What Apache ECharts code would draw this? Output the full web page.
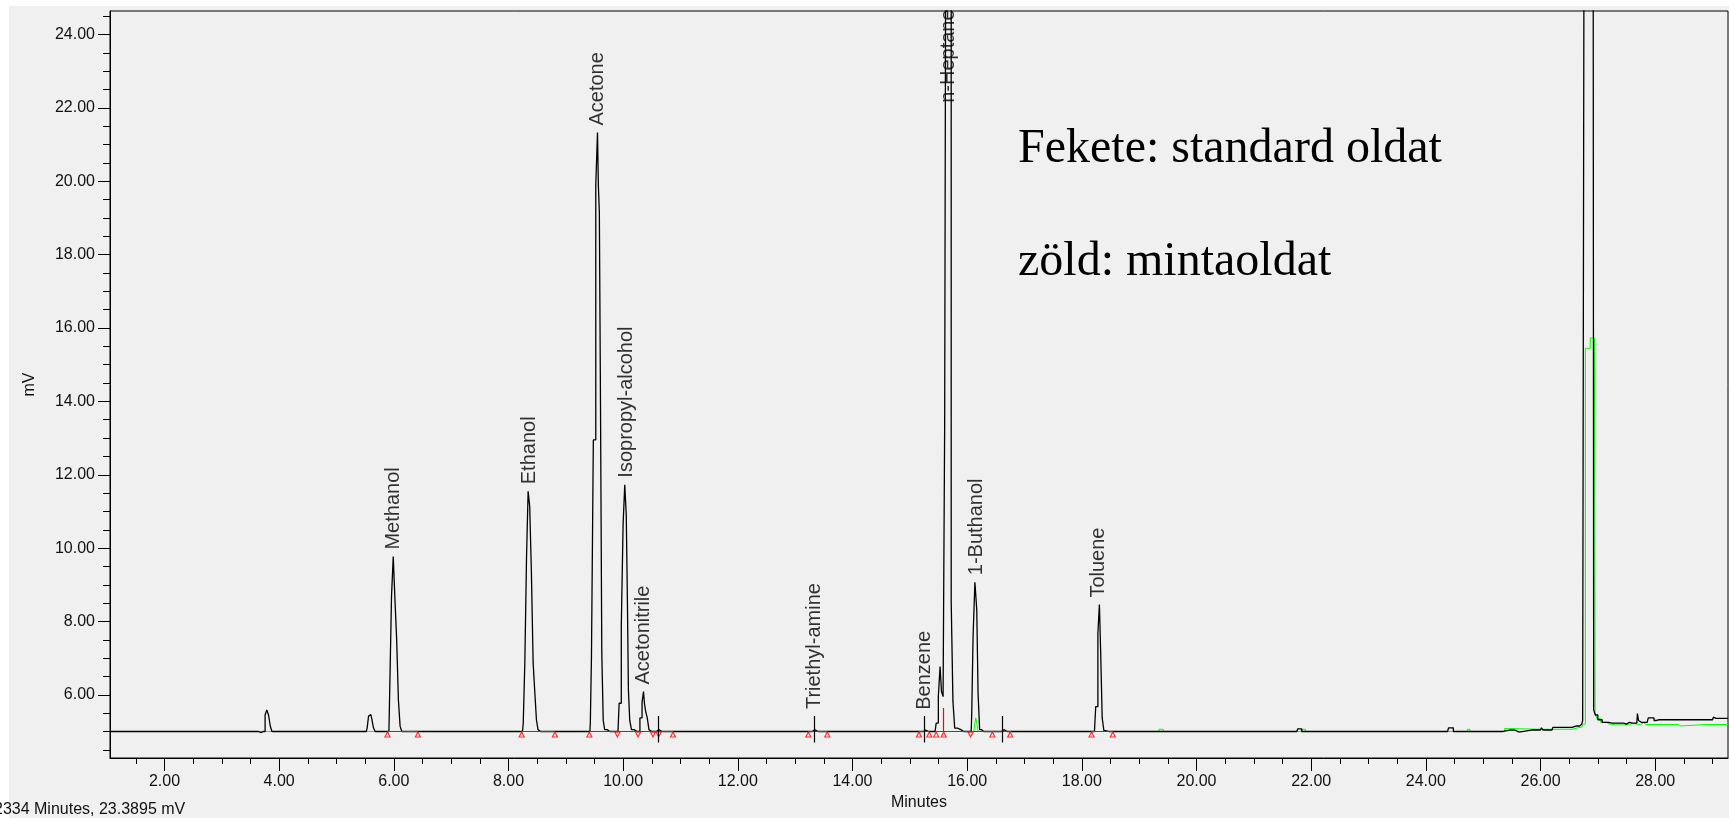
<!DOCTYPE html>
<html>
<head>
<meta charset="utf-8">
<title>Chromatogram</title>
<script src="https://cdn.jsdelivr.net/npm/echarts@6.0.0/dist/echarts.min.js"></script>
<style>
    html, body {margin: 0; padding: 0; background: #ffffff; overflow: hidden;}
    #panel {position: absolute; left: 9px; top: 6px; right: 0; bottom: 0; background: #f0f0f0;}
    #chart {position: absolute; left: 0; top: 0; width: 1729px; height: 818px;}
</style>
</head>
<body>
<div id="panel"></div>
<div id="chart"></div>
<script>
// axis ticks
var xMajor = [2, 4, 6, 8, 10, 12, 14, 16, 18, 20, 22, 24, 26, 28];
var xMinor = [1.5, 2.5, 3, 3.5, 4.5, 5, 5.5, 6.5, 7, 7.5, 8.5, 9, 9.5, 10.5, 11, 11.5, 12.5, 13, 13.5,
    14.5, 15, 15.5, 16.5, 17, 17.5, 18.5, 19, 19.5, 20.5, 21, 21.5, 22.5, 23, 23.5, 24.5, 25, 25.5,
    26.5, 27, 27.5, 28.5, 29];
var yMajor = [6, 8, 10, 12, 14, 16, 18, 20, 22, 24];
var yMinor = [4.5, 5, 5.5, 6.5, 7, 7.5, 8.5, 9, 9.5, 10.5, 11, 11.5, 12.5, 13, 13.5, 14.5, 15, 15.5,
    16.5, 17, 17.5, 18.5, 19, 19.5, 20.5, 21, 21.5, 22.5, 23, 23.5, 24.5];

// black trace: standard oldat (minutes, mV)
var standardTrace = [
    [1.05, 5.0], [3.64, 5.0], [3.67, 4.97], [3.70, 5.0],
    [3.74, 5.0], [3.77, 5.45], [3.80, 5.59], [3.83, 5.45], [3.86, 5.15], [3.89, 5.0],
    [5.52, 5.0], [5.55, 5.1], [5.57, 5.42], [5.60, 5.46], [5.63, 5.35], [5.66, 5.1], [5.69, 5.0],
    [5.915, 5.0], [5.945, 6.23], [5.975, 8.68], [6.005, 9.77], [6.035, 8.59], [6.065, 7.5], [6.095, 5.86], [6.125, 5.14], [6.155, 5.0], [6.20, 5.0],
    [8.245, 5.0], [8.27, 5.23], [8.30, 6.87], [8.33, 9.77], [8.355, 11.55], [8.385, 11.14], [8.415, 9.32], [8.445, 6.87], [8.475, 6.05], [8.50, 5.32], [8.53, 5.05], [8.56, 5.0], [8.60, 5.0],
    [9.42, 5.0], [9.435, 5.23], [9.46, 7.05], [9.50, 12.95], [9.545, 19.9], [9.56, 21.33], [9.575, 19.9], [9.595, 19.15], [9.615, 13.9], [9.64, 7.15], [9.665, 5.3], [9.69, 5.05], [9.75, 5.0], [9.79, 5.0],
    [9.91, 5.0], [9.95, 5.77], [9.985, 7.86], [10.013, 10.64], [10.043, 11.73], [10.065, 10.91], [10.083, 8.6], [10.10, 6.14], [10.13, 5.3], [10.16, 5.05], [10.22, 5.0],
    [10.27, 5.0], [10.315, 5.37], [10.345, 5.8], [10.365, 6.09], [10.38, 5.75], [10.405, 5.55], [10.435, 5.37], [10.465, 5.05], [10.5, 5.0],
    [10.58, 5.0], [10.60, 5.05], [10.64, 5.05], [10.66, 5.0], [10.70, 5.0],
    [13.30, 5.0], [13.32, 5.05], [13.36, 5.05], [13.38, 5.0], [13.42, 5.0],
    [15.24, 5.0], [15.26, 5.04], [15.29, 5.04], [15.31, 5.0], [15.35, 5.0],
    [15.44, 5.0], [15.48, 5.23], [15.515, 5.96], [15.54, 6.77], [15.565, 6.09], [15.595, 5.95], [15.62, 13.32], [15.655, 35], [15.705, 35], [15.738, 8.55], [15.766, 5.82], [15.80, 5.09], [15.86, 5.05], [15.92, 5.0], [15.96, 5.0],
    [16.07, 5.0], [16.09, 5.5], [16.115, 7.55], [16.155, 9.07], [16.18, 8.32], [16.20, 6.05], [16.235, 5.05], [16.27, 5.0], [16.31, 5.0],
    [16.60, 5.0], [16.62, 5.05], [16.66, 5.05], [16.68, 5.0], [16.72, 5.0],
    [18.22, 5.0], [18.265, 5.68], [18.295, 7.68], [18.318, 8.46], [18.34, 7.14], [18.37, 5.37], [18.40, 5.02], [18.45, 5.0], [18.49, 5.0],
    [21.75, 5.0], [21.78, 5.07], [21.82, 5.07], [21.85, 5.0], [21.89, 5.0],
    [24.38, 5.0], [24.41, 5.1], [24.46, 5.1], [24.5, 5.0], [24.54, 5.0],
    [25.35, 5.0], [25.38, 5.04], [25.55, 5.04], [25.58, 4.99], [25.65, 4.99], [25.68, 5.04], [26.0, 5.04], [26.03, 5.1], [26.06, 5.04],
    [26.2, 5.04], [26.23, 5.11], [26.55, 5.11], [26.58, 5.15], [26.68, 5.15], [26.72, 5.2], [26.75, 5.3],
    [26.785, 35], [26.915, 35], [26.94, 5.59], [26.97, 5.45], [27.03, 5.32], [27.12, 5.25], [27.25, 5.23], [27.45, 5.23],
    [27.5, 5.2], [27.55, 5.25], [27.6, 5.23], [27.68, 5.23], [27.70, 5.49], [27.72, 5.3], [27.76, 5.25], [27.86, 5.25],
    [27.9, 5.37], [27.96, 5.37], [28.0, 5.3], [28.04, 5.32], [28.1, 5.32], [29.0, 5.32], [29.03, 5.39], [29.06, 5.36], [29.27, 5.36]
];

// green trace: mintaoldat
var sampleTrace = [
    [1.05, 5.0], [16.12, 5.0], [16.14, 5.2], [16.16, 5.37], [16.18, 5.2], [16.20, 5.0], [16.24, 5.0],
    [19.34, 5.0], [19.35, 5.06], [19.42, 5.06], [19.43, 5.0], [19.47, 5.0],
    [21.84, 5.0], [21.85, 5.06], [21.9, 5.06], [21.91, 5.0], [21.95, 5.0],
    [24.72, 5.0], [24.73, 5.06], [24.77, 5.06], [24.78, 5.0], [24.82, 5.0],
    [25.37, 5.0], [25.38, 5.08], [25.47, 5.08], [25.48, 5.06], [26.55, 5.06], [26.58, 5.1], [26.72, 5.12], [26.77, 5.2],
    [26.795, 15.45], [26.94, 15.73], [26.965, 5.5], [27.0, 5.35], [27.1, 5.25], [27.2, 5.2], [27.3, 5.18], [27.55, 5.18],
    [27.58, 5.22], [27.62, 5.2], [27.75, 5.19], [27.8, 5.24], [27.84, 5.19], [28.4, 5.19], [28.43, 5.15], [28.47, 5.19], [29.27, 5.19]
];

// peak names
var peakNames = ['Methanol', 'Ethanol', 'Acetone', 'Isopropyl-alcohol', 'Acetonitrile', 'Triethyl-amine', 'Benzene', 'n-Heptane', '1-Buthanol', 'Toluene'];
var peakTimes = [5.99, 8.36, 9.56, 10.05, 10.35, 13.33, 15.26, 15.68, 16.16, 18.29];
var peakTops = [9.77, 11.55, 21.33, 11.73, 6.09, 5.42, 5.40, 21.95, 9.07, 8.46];

// integration (red)
var baseLevel = 5.0;
var integStart = [5.89, 8.23, 9.41, 13.23, 15.16, 15.45, 18.17];
var integEnd = [6.42, 8.81, 10.87, 13.56, 15.34, 16.77, 18.54];
var baseMarks = [5.89, 6.42, 8.23, 8.81, 9.41, 10.87, 13.23, 13.56, 15.16, 15.34, 15.46, 15.59, 16.44, 16.75, 18.17, 18.54];
var valleyMarks = [9.90, 10.26, 10.52, 10.62, 16.06];
var dropTimes = [15.59];
var dropTops = [5.64];

// event markers (black)
var eventTimes = [10.61, 13.33, 15.26, 16.62];
var eventLow = 4.70;
var eventHigh = 5.42;

var xMin = 1.05, xMax = 29.27, yMin = 4.277, yMax = 24.645;
var axisFont = 'Liberation Sans, Arial, sans-serif';

var redLines = [];
integStart.forEach(function (s, i) {
    redLines.push({coords: [[s, baseLevel], [integEnd[i], baseLevel]]});
});
dropTimes.forEach(function (t, i) {
    redLines.push({coords: [[t, baseLevel], [t, dropTops[i]]]});
});
var eventLines = eventTimes.map(function (t) {
    return {coords: [[t, eventLow], [t, eventHigh]]};
});
var labelData = peakNames.map(function (n, i) {
    return {name: n, value: [peakTimes[i], peakTops[i]]};
});

var e = echarts.init(document.getElementById('chart'), null, {renderer: 'canvas'});
e.setOption({
    animation: false,
    backgroundColor: 'transparent',
    grid: {left: 110, top: 11, right: 1, bottom: 60, show: true, borderColor: '#000', borderWidth: 1,
        backgroundColor: 'transparent', containLabel: false, outerBoundsMode: 'none'},
    xAxis: [{
        type: 'value', min: xMin, max: xMax, position: 'bottom',
        name: 'Minutes', nameLocation: 'middle', nameGap: 37,
        nameTextStyle: {fontFamily: axisFont, fontSize: 16, color: '#111'},
        axisLine: {show: true, lineStyle: {color: '#000', width: 1}},
        axisTick: {show: true, customValues: xMajor, length: 13, lineStyle: {color: '#000', width: 1}},
        axisLabel: {customValues: xMajor, margin: 16, fontFamily: axisFont, fontSize: 16, color: '#111',
            formatter: function (v) { return v.toFixed(2); }},
        splitLine: {show: false}
    }, {
        type: 'value', min: xMin, max: xMax, position: 'bottom',
        axisLine: {show: false},
        axisTick: {show: true, customValues: xMinor, length: 6, lineStyle: {color: '#000', width: 1}},
        axisLabel: {show: false},
        splitLine: {show: false}
    }],
    yAxis: [{
        type: 'value', min: yMin, max: yMax, position: 'left',
        name: 'mV', nameLocation: 'middle', nameGap: 72,
        nameTextStyle: {fontFamily: axisFont, fontSize: 16, color: '#111'},
        axisLine: {show: true, lineStyle: {color: '#000', width: 1}},
        axisTick: {show: true, customValues: yMajor, length: 12, lineStyle: {color: '#000', width: 1}},
        axisLabel: {customValues: yMajor, margin: 15, fontFamily: axisFont, fontSize: 16, color: '#111',
            formatter: function (v) { return v.toFixed(2); }},
        splitLine: {show: false}
    }, {
        type: 'value', min: yMin, max: yMax, position: 'left',
        axisLine: {show: false},
        axisTick: {show: true, customValues: yMinor, length: 7, lineStyle: {color: '#000', width: 1}},
        axisLabel: {show: false},
        splitLine: {show: false}
    }],
    series: [{
        name: 'zöld: mintaoldat', type: 'line', step: 'middle', data: sampleTrace,
        showSymbol: false, silent: true, z: 2,
        lineStyle: {color: '#00ff00', width: 1}
    }, {
        name: 'Fekete: standard oldat', type: 'line', step: 'middle', data: standardTrace,
        showSymbol: false, silent: true, z: 3,
        lineStyle: {color: '#000000', width: 1.3}
    }, {
        type: 'lines', coordinateSystem: 'cartesian2d', data: redLines, silent: true, z: 4,
        lineStyle: {color: '#ff0000', width: 1.2, opacity: 1}
    }, {
        type: 'scatter', silent: true, z: 5, symbol: 'triangle', symbolSize: [5, 5], symbolOffset: [0, 3],
        itemStyle: {color: 'none', borderColor: '#ff0000', borderWidth: 1.2},
        data: baseMarks.map(function (t) { return [t, baseLevel]; })
    }, {
        type: 'scatter', silent: true, z: 5, symbol: 'triangle', symbolRotate: 180, symbolSize: [5, 5], symbolOffset: [0, 3],
        itemStyle: {color: 'none', borderColor: '#ff0000', borderWidth: 1.2},
        data: valleyMarks.map(function (t) { return [t, baseLevel]; })
    }, {
        type: 'lines', coordinateSystem: 'cartesian2d', data: eventLines, silent: true, z: 6,
        lineStyle: {color: '#000000', width: 1.2, opacity: 1}
    }, {
        type: 'scatter', silent: true, z: 7, symbolSize: 0, data: labelData,
        label: {
            show: true, formatter: '{b}', position: 'top', distance: 7, rotate: 90,
            align: 'left', verticalAlign: 'middle',
            fontFamily: axisFont, fontSize: 20, color: '#000'
        }
    }],
    graphic: [{
        type: 'text', x: 1018, y: 149, silent: true,
        style: {text: 'Fekete: standard oldat', font: '48px "Liberation Serif", "Times New Roman", serif',
            fill: '#000', align: 'left', verticalAlign: 'middle', textAlign: 'left', textVerticalAlign: 'middle'}
    }, {
        type: 'text', x: 1018, y: 262, silent: true,
        style: {text: 'zöld: mintaoldat', font: '48px "Liberation Serif", "Times New Roman", serif',
            fill: '#000', align: 'left', verticalAlign: 'middle', textAlign: 'left', textVerticalAlign: 'middle'}
    }, {
        type: 'text', x: -6, y: 810, silent: true,
        style: {text: '2334 Minutes, 23.3895 mV', font: '16px "Liberation Sans", Arial, sans-serif',
            fill: '#111', align: 'left', verticalAlign: 'middle', textAlign: 'left', textVerticalAlign: 'middle'}
    }]
});
window.onresize = function () {
    e.resize();
};
</script>
</body>
</html>
